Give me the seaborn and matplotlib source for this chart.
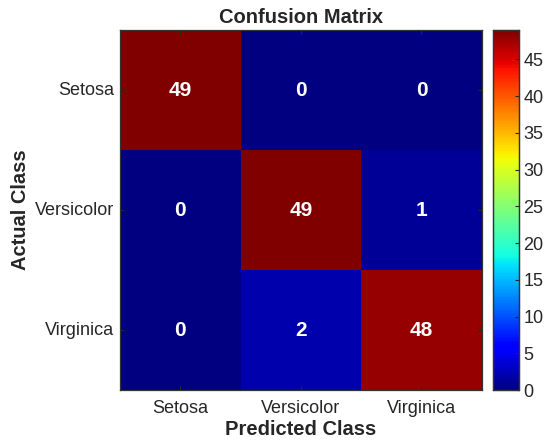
import matplotlib
matplotlib.use("Agg")
import matplotlib.pyplot as plt
import numpy as np
import seaborn as sns

classes = ["Setosa", "Versicolor", "Virginica"]
row_setosa = [49, 0, 0]
row_versicolor = [0, 49, 1]
row_virginica = [0, 2, 48]
cbar_ticks = [0, 5, 10, 15, 20, 25, 30, 35, 40, 45]

cm = np.array([row_setosa, row_versicolor, row_virginica])

plt.rcParams["font.family"] = ["Liberation Sans", "DejaVu Sans"]

fig = plt.figure(figsize=(5.5, 4.48), dpi=100)
ax = fig.add_axes([0.218, 0.129, 0.658, 0.804])
cax = fig.add_axes([0.896, 0.129, 0.047, 0.804])

sns.heatmap(
    cm, ax=ax, cbar_ax=cax, cmap="jet", vmin=0, vmax=49,
    annot=True, fmt="d",
    annot_kws={"color": "white", "fontsize": 15, "fontweight": "bold"},
    xticklabels=classes, yticklabels=classes,
    cbar_kws={"ticks": cbar_ticks},
)

for spine in ax.spines.values():
    spine.set_visible(True)
    spine.set_color("#333333")
    spine.set_linewidth(0.9)
ax.tick_params(axis="both", direction="in", length=3, labelsize=13, colors="#262626")
ax.tick_params(axis="x", top=True, pad=7)
ax.tick_params(axis="y", right=True, pad=4)
plt.setp(ax.get_yticklabels(), rotation=0)
plt.setp(ax.get_xticklabels(), rotation=0)

ax.set_title("Confusion Matrix", fontsize=14.5, fontweight="bold", color="#262626", pad=5)
ax.set_xlabel("Predicted Class", fontsize=14.5, fontweight="bold", color="#262626", labelpad=2)
ax.set_ylabel("Actual Class", fontsize=14.5, fontweight="bold", color="#262626", labelpad=4)

cax.tick_params(direction="in", length=3, labelsize=13, colors="#262626")
for spine in cax.spines.values():
    spine.set_visible(True)
    spine.set_color("#333333")
    spine.set_linewidth(0.9)

fig.savefig("out.png", dpi=100)
